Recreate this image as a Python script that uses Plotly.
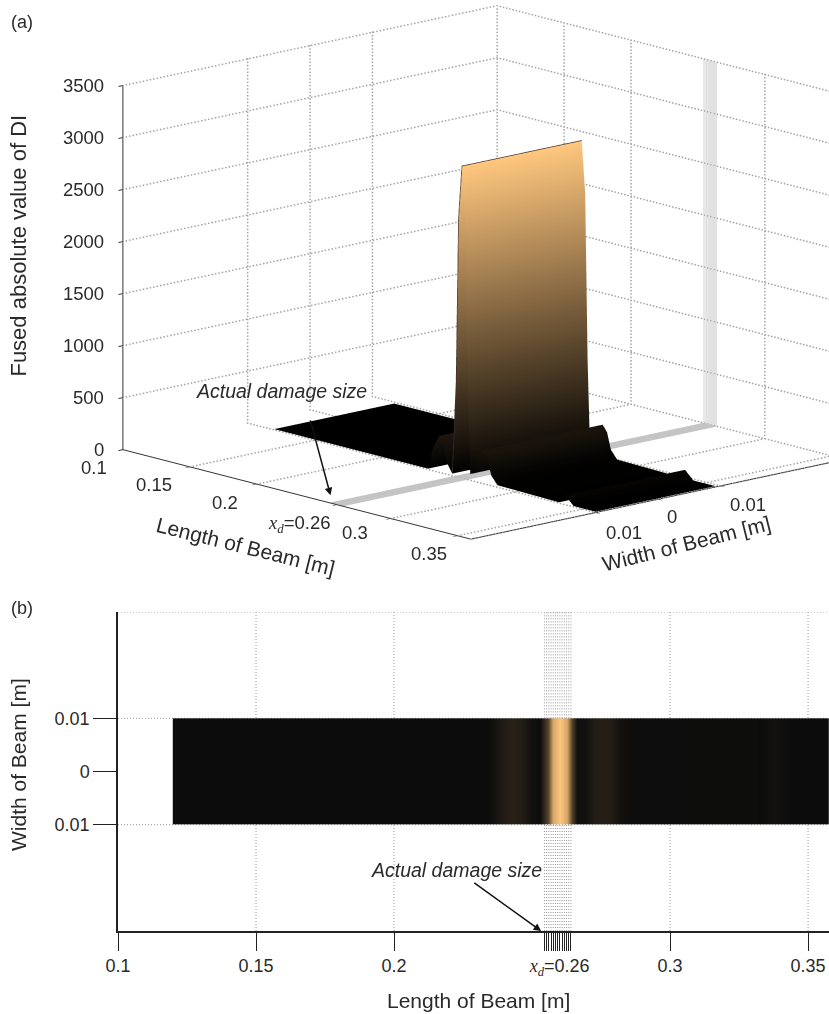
import numpy as np
import plotly.graph_objects as go

length_x = [0.12,0.1203,0.16,0.2,0.2348,0.2385,0.2431,0.2465,0.2493,0.2529,0.2558,0.2576,0.2601,0.2627,0.2645,0.2663,0.2692,0.2725,0.2757,0.2790,0.2819,0.2866,0.3326,0.3373,0.3435,0.3597,0.36]
fused_di = [8,8,8,8,8,220,350,250,100,20,900,2500,3000,2500,900,60,80,260,320,260,100,20,8,90,8,8,8]
width_y = [-0.01,0.0092]
width_edges = [-0.01,0,0.01]
x_ticks = [0.1,0.15,0.2,0.26,0.3,0.35]
x_labels = ["0.1","0.15","0.2","","0.3","0.35"]
y_ticks = [-0.01,0,0.01]
y_labels = ["0.01","0","0.01"]
z_ticks = [0,500,1000,1500,2000,2500,3000,3500]
x_range = [0.1,0.36]
y_range = [-0.03,0.03]
damage_x = [0.2545,0.2553,0.2561,0.2569,0.2577,0.2585,0.2593,0.2601,0.2609,0.2617,0.2625,0.2633,0.2641]
grid_x2d = [0.15,0.2,0.3,0.35]
grid_y2d = [-0.01,0.01,0.03]

FONT="Liberation Sans"
GRID="#9a9a9a"
TXT="#2a2a2a"
fig=go.Figure()

z_rows=[fused_di for _ in width_y]
fig.add_trace(go.Surface(x=length_x,y=width_y,z=z_rows,cmin=0,cmax=3000,showscale=False,
    colorscale=[[0,"#000000"],[0.5,"#80633f"],[1,"#ffc77f"]],
    lighting=dict(ambient=1,diffuse=0,specular=0,fresnel=0,roughness=1),hoverinfo="skip"))
i0,i1=length_x.index(0.2529),length_x.index(0.2601)
fig.add_trace(go.Scatter3d(x=length_x[i0:i1+1]+[length_x[i1]],y=[width_y[0]]*(i1-i0+1)+[width_y[1]],z=fused_di[i0:i1+1]+[fused_di[i1]],
    mode="lines",line=dict(color="#3a3028",width=1.5),hoverinfo="skip",showlegend=False))

def seg(a,b,n):
    return np.linspace(a,b,n).tolist()
gx,gy,gz=[],[],[]
def add(p,q,n):
    gx.extend(seg(p[0],q[0],n)); gy.extend(seg(p[1],q[1],n)); gz.extend(seg(p[2],q[2],n))
x0,x1=x_range; y0,y1=y_range; zt=z_ticks[-1]
N=110
for t in [v for v in x_ticks if v not in (0.26,0.1)]+[x1]:
    add((t,y0,0),(t,y1,0),N); add((t,y1,0),(t,y1,zt),N)
for t in y_ticks+[y1]:
    add((x1,t,0),(x0,t,0),N); add((x0,t,0),(x0,t,zt),N)
for t in z_ticks[1:]:
    add((x0,y0,t),(x0,y1,t),N); add((x0,y1,t),(x1,y1,t),N)
add((x0,y1,0),(x0,y1,zt),N)
fig.add_trace(go.Scatter3d(x=gx,y=gy,z=gz,mode="markers",marker=dict(color="#a6a6a6",size=1,line=dict(width=0)),hoverinfo="skip",showlegend=False))

dx,dy,dz=[],[],[]
for t in damage_x:
    dx+=[t,t,t,None]; dy+=[y0,y1,y1,None]; dz+=[0,0,zt,None]
fig.add_trace(go.Scatter3d(x=dx,y=dy,z=dz,mode="lines",line=dict(color="#c4c4c4",width=1),hoverinfo="skip",showlegend=False))

for t in damage_x:
    fig.add_trace(go.Scatter(x=[t,t,None,t,t],y=[y0,-0.01,None,0.01,y1],mode="lines",line=dict(color="#999999",width=1,dash="1px,2px"),hoverinfo="skip",showlegend=False,xaxis="x",yaxis="y"))
fig.add_trace(go.Heatmap(x=length_x,y=width_edges,z=z_rows,zmin=0,zmax=3000,zsmooth="best",showscale=False,
    colorscale=[[0,"#0c0c0c"],[0.5,"#86683f"],[1,"#ffc77f"]],hoverinfo="skip",xaxis="x",yaxis="y"))

dirn=np.array([.718,-.654,.234]); d=2.0
center=np.array([-0.159,-0.174,-0.079]); eye=center+d*dirn
axis3=dict(showgrid=False,showbackground=False,zeroline=False,showline=True,linecolor="#333333",linewidth=2,showticklabels=False,
           ticks="outside",tickcolor="#333333",tickwidth=2,ticklen=6,showspikes=False,title=dict(text=""))
tick2=x_ticks+damage_x
xd="<span style='font-family:Liberation Serif'><i>x<sub>d</sub></i></span>=0.26"
lab2=["0.1","0.15","0.2",xd,"0.3","0.35"]+[""]*len(damage_x)
def note(text,x,y,z,xs,ys,angle=0,size=18.5):
    return dict(x=x,y=y,z=z,text=text,textangle=angle,showarrow=False,xshift=xs,yshift=ys,font=dict(family=FONT,size=size,color=TXT))
notes=[
    note("<i>Actual damage size</i>",0.26,y0,0,-56,114,0,19.5),
    dict(x=0.26,y=y0,z=0,text=" ",showarrow=True,arrowhead=2,arrowwidth=1.5,arrowcolor="#111",ax=-25,ay=-93,standoff=10,xshift=-4),
    note(xd,0.26,y0,0,-38,-19),
    note("Length of Beam [m]",0.23,y0,0,-51,-52,14,21),
    note("Width of Beam [m]",x1,0,0,28,-44,-14,21),
    note("Fused absolute value of DI",x0,y0,1750,-104,22,-90,22),
]
for v,l,ox,oy in zip(x_ticks,x_labels,[-29,-36,-32,0,-36,-29],[-18,-18,-18,0,-14,-18]):
    if l: notes.append(note(l,v,y0,0,ox,oy))
for v,l,ox,oy in zip(y_ticks,y_labels,[28,14,28],[-20,-17,-18]):
    notes.append(note(l,x1,v,0,ox,oy))
for v in z_ticks:
    notes.append(note(str(v),x0,y0,v,-19-len(str(v))*5.15,0))
fig.update_layout(
    width=829,height=1014,margin=dict(l=0,r=0,t=0,b=0),paper_bgcolor="white",plot_bgcolor="white",
    font=dict(family=FONT,color=TXT),
    scene=dict(domain=dict(x=[0,1],y=[0.418,1]),
        xaxis=dict(axis3,range=x_range,tickvals=x_ticks),
        yaxis=dict(axis3,range=y_range,tickvals=y_ticks),
        zaxis=dict(axis3,range=[0,3501],tickvals=z_ticks),
        aspectmode="manual",aspectratio=dict(x=1.752,y=1.716,z=1.27),
        camera=dict(eye=dict(x=eye[0],y=eye[1],z=eye[2]),center=dict(x=center[0],y=center[1],z=center[2]),up=dict(x=0,y=0,z=1),projection=dict(type="orthographic")),
        annotations=notes),
    xaxis=dict(domain=[118/829,1],range=[0.1,0.3576],tickvals=tick2,ticktext=lab2,automargin=False,
        showgrid=False,zeroline=False,showline=True,linecolor="#222",linewidth=1.5,ticks="outside",ticklen=18,tickcolor="#222",tickfont=dict(size=18)),
    yaxis=dict(domain=[1-931/1014,1-612/1014],range=[-0.03,0.03],tickvals=y_ticks,ticktext=y_labels,automargin=False,showgrid=False,zeroline=False,showline=True,linecolor="#222",linewidth=1.5,
        ticks="outside",ticklen=23,tickcolor="#222",tickfont=dict(size=18)),
    annotations=[
        dict(text="(a)",x=9/829,y=1-22/1014,xref="paper",yref="paper",showarrow=False,xanchor="left",yanchor="middle",font=dict(size=18)),
        dict(text="(b)",x=9/829,y=1-608/1014,xref="paper",yref="paper",showarrow=False,xanchor="left",yanchor="middle",font=dict(size=18)),
        dict(text="Length of Beam [m]",x=478/829,y=1-1000/1014,xref="paper",yref="paper",xanchor="center",yanchor="middle",showarrow=False,font=dict(size=21)),
        dict(text="Width of Beam [m]",x=18/829,y=1-765/1014,xref="paper",yref="paper",xanchor="center",yanchor="middle",showarrow=False,textangle=-90,font=dict(size=21)),
        dict(text="<i>Actual damage size</i>",x=0.2533,y=-0.03,xref="x",yref="y",ax=0.2228,ay=-0.0186,axref="x",ayref="y",showarrow=True,arrowhead=2,arrowwidth=1.5,arrowcolor="#111",font=dict(size=19.5)),
    ],
)
for t in grid_x2d:
    fig.add_shape(type="line",x0=t,x1=t,y0=y0,y1=y1,xref="x",yref="y",line=dict(color=GRID,width=1,dash="1px,2px"),layer="below")
for t in grid_y2d:
    fig.add_shape(type="line",x0=0.1,x1=0.3576,y0=t,y1=t,xref="x",yref="y",line=dict(color=GRID,width=1,dash="1px,2px"),layer="below")
fig.write_html("out.html",config=dict(displayModeBar=False),post_script="document.body.style.margin='0';document.body.style.overflow='hidden';")
